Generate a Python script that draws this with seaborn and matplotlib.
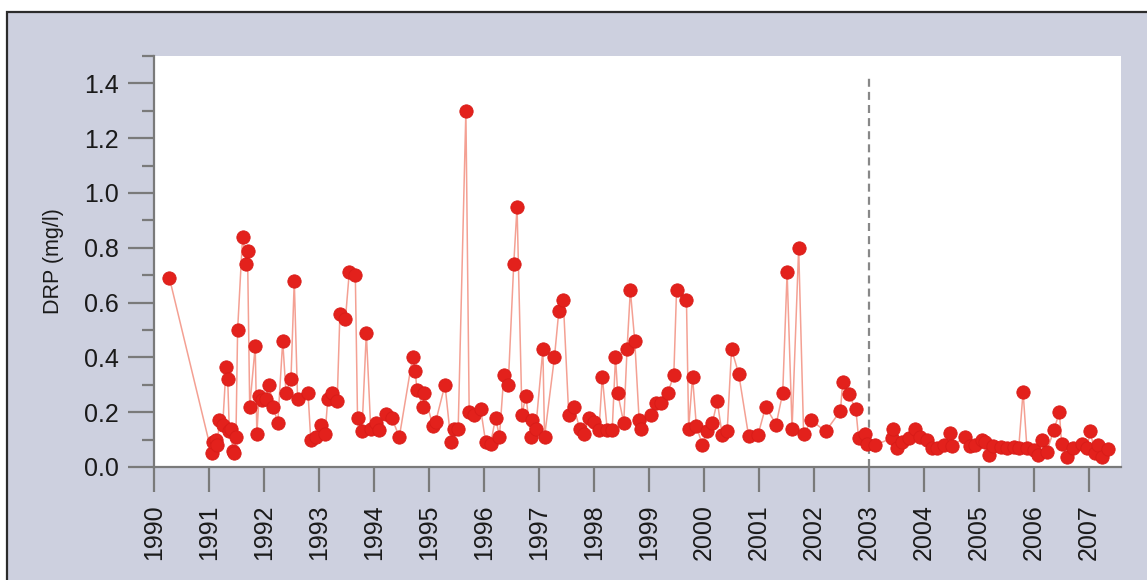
import matplotlib
matplotlib.use("Agg")
import matplotlib.pyplot as plt
from matplotlib.patches import Rectangle
from matplotlib.ticker import MultipleLocator, FormatStrFormatter
import seaborn as sns
import pandas as pd

# ---- data (decimal year, DRP mg/l) ----
dates = [
    1990.28, 1991.05, 1991.07, 1991.12, 1991.15, 1991.19, 1991.25, 1991.31, 1991.34, 1991.37,
    1991.40, 1991.43, 1991.46, 1991.49, 1991.52, 1991.61, 1991.68, 1991.70, 1991.74, 1991.84,
    1991.87, 1991.91, 1991.97, 1992.03, 1992.09, 1992.17, 1992.25, 1992.34, 1992.40, 1992.49,
    1992.55, 1992.61, 1992.80, 1992.85, 1992.94, 1993.03, 1993.11, 1993.16, 1993.24, 1993.33,
    1993.38, 1993.48, 1993.55, 1993.66, 1993.70, 1993.78, 1993.86, 1993.94, 1994.03, 1994.09,
    1994.21, 1994.32, 1994.46, 1994.70, 1994.75, 1994.78, 1994.89, 1994.91, 1995.07, 1995.12,
    1995.29, 1995.40, 1995.45, 1995.53, 1995.67, 1995.73, 1995.82, 1995.94, 1996.03, 1996.12,
    1996.21, 1996.28, 1996.36, 1996.44, 1996.54, 1996.60, 1996.69, 1996.76, 1996.85, 1996.88,
    1996.94, 1997.07, 1997.10, 1997.28, 1997.36, 1997.44, 1997.54, 1997.63, 1997.74, 1997.82,
    1997.91, 1998.00, 1998.09, 1998.15, 1998.24, 1998.33, 1998.39, 1998.43, 1998.54, 1998.60,
    1998.66, 1998.74, 1998.82, 1998.86, 1999.03, 1999.12, 1999.22, 1999.34, 1999.45, 1999.50,
    1999.68, 1999.72, 1999.79, 1999.86, 1999.97, 2000.06, 2000.15, 2000.24, 2000.33, 2000.42,
    2000.50, 2000.63, 2000.81, 2000.98, 2001.12, 2001.31, 2001.43, 2001.51, 2001.60, 2001.72,
    2001.81, 2001.95, 2002.21, 2002.48, 2002.52, 2002.63, 2002.76, 2002.81, 2002.93, 2002.96,
    2003.11, 2003.41, 2003.44, 2003.50, 2003.60, 2003.72, 2003.84, 2003.93, 2004.05, 2004.14,
    2004.24, 2004.36, 2004.48, 2004.50, 2004.75, 2004.84, 2004.93, 2005.05, 2005.11, 2005.18,
    2005.26, 2005.39, 2005.51, 2005.63, 2005.72, 2005.80, 2005.87, 2005.99, 2006.08, 2006.14,
    2006.23, 2006.36, 2006.46, 2006.50, 2006.59, 2006.71, 2006.87, 2006.96, 2007.02, 2007.11,
    2007.17, 2007.23, 2007.35,
]
drp = [
    0.69, 0.05, 0.09, 0.10, 0.08, 0.17, 0.155, 0.365, 0.32, 0.13,
    0.14, 0.06, 0.05, 0.11, 0.50, 0.84, 0.74, 0.79, 0.22, 0.44,
    0.12, 0.26, 0.245, 0.25, 0.30, 0.22, 0.16, 0.46, 0.27, 0.32,
    0.68, 0.25, 0.27, 0.10, 0.11, 0.155, 0.12, 0.25, 0.27, 0.24,
    0.56, 0.54, 0.71, 0.70, 0.18, 0.13, 0.49, 0.14, 0.16, 0.135,
    0.195, 0.18, 0.11, 0.40, 0.35, 0.28, 0.22, 0.27, 0.15, 0.165,
    0.30, 0.09, 0.14, 0.14, 1.30, 0.20, 0.19, 0.21, 0.09, 0.085,
    0.18, 0.11, 0.335, 0.30, 0.74, 0.95, 0.19, 0.26, 0.11, 0.17,
    0.14, 0.43, 0.11, 0.40, 0.57, 0.61, 0.19, 0.22, 0.14, 0.12,
    0.18, 0.165, 0.135, 0.33, 0.135, 0.135, 0.40, 0.27, 0.16, 0.43,
    0.645, 0.46, 0.17, 0.14, 0.19, 0.235, 0.235, 0.27, 0.335, 0.645,
    0.61, 0.14, 0.33, 0.15, 0.08, 0.13, 0.16, 0.24, 0.117, 0.13,
    0.43, 0.34, 0.113, 0.117, 0.22, 0.155, 0.27, 0.71, 0.14, 0.80,
    0.12, 0.17, 0.13, 0.205, 0.31, 0.265, 0.21, 0.105, 0.12, 0.085,
    0.08, 0.105, 0.14, 0.07, 0.09, 0.105, 0.14, 0.11, 0.10, 0.07,
    0.07, 0.08, 0.125, 0.075, 0.11, 0.075, 0.08, 0.10, 0.09, 0.045,
    0.077, 0.072, 0.068, 0.072, 0.068, 0.275, 0.068, 0.062, 0.045, 0.10,
    0.056, 0.135, 0.20, 0.085, 0.038, 0.068, 0.085, 0.068, 0.13, 0.05,
    0.08, 0.035, 0.065,
]
year_ticks = list(range(1990, 2008))
y_ticks = [0.0, 0.2, 0.4, 0.6, 0.8, 1.0, 1.2, 1.4]
y_label = "DRP (mg/l)"
change_year = 2003

df = pd.DataFrame({"date": dates, "drp": drp})

sns.set_style("ticks")
plt.rcParams["font.family"] = ["Liberation Sans", "DejaVu Sans"]

W, H = 1147, 580
fig = plt.figure(figsize=(W / 100, H / 100), dpi=100)
fig.patch.set_facecolor("white")

# lavender panel with dark border (background axes)
bg = fig.add_axes([0, 0, 1, 1], zorder=-5)
bg.set_xlim(0, W)
bg.set_ylim(H, 0)
bg.axis("off")
bg.add_patch(Rectangle((7, 12), W + 50, H + 50, facecolor="#cdd0df",
                       edgecolor="#2b2b2b", linewidth=1.6))

ax = fig.add_axes([154 / W, 1 - 467 / H, (1121 - 154) / W, (467 - 56) / H], zorder=1)
ax.set_facecolor("white")

sns.lineplot(data=df, x="date", y="drp", ax=ax, color="#f4a093", linewidth=1.1,
             sort=False, estimator=None, zorder=2)
sns.scatterplot(data=df, x="date", y="drp", ax=ax, color="#e3211c", edgecolor="#d81c18",
                s=92, linewidth=0.6, zorder=3)

ax.vlines(change_year, 0, 1.42, colors="#888888", linewidth=1.6,
          linestyles=(0, (3.6, 2.3)), zorder=1)

ax.set_xlim(1990, 2007.58)
ax.set_ylim(0, 1.5)
ax.set_xticks(year_ticks)
ax.set_xticklabels([str(y) for y in year_ticks], rotation=90)
ax.set_yticks(y_ticks)
ax.yaxis.set_minor_locator(MultipleLocator(0.1))
ax.yaxis.set_major_formatter(FormatStrFormatter("%.1f"))

for s in ("top", "right"):
    ax.spines[s].set_visible(False)
for s in ("left", "bottom"):
    ax.spines[s].set_color("#7a7a7a")
    ax.spines[s].set_linewidth(1.6)

ax.tick_params(axis="x", length=18, width=1.6, color="#7a7a7a", pad=9,
               labelsize=18, labelcolor="#1a1a1a")
ax.tick_params(axis="y", which="major", length=19, width=1.6, color="#7a7a7a",
               pad=6.5, labelsize=18, labelcolor="#1a1a1a")
ax.tick_params(axis="y", which="minor", length=8.6, width=1.6, color="#7a7a7a")

ax.set_xlabel("")
ax.set_ylabel(y_label, fontsize=15.5, color="#1a1a1a", labelpad=14)

fig.savefig("out.png", dpi=100)
